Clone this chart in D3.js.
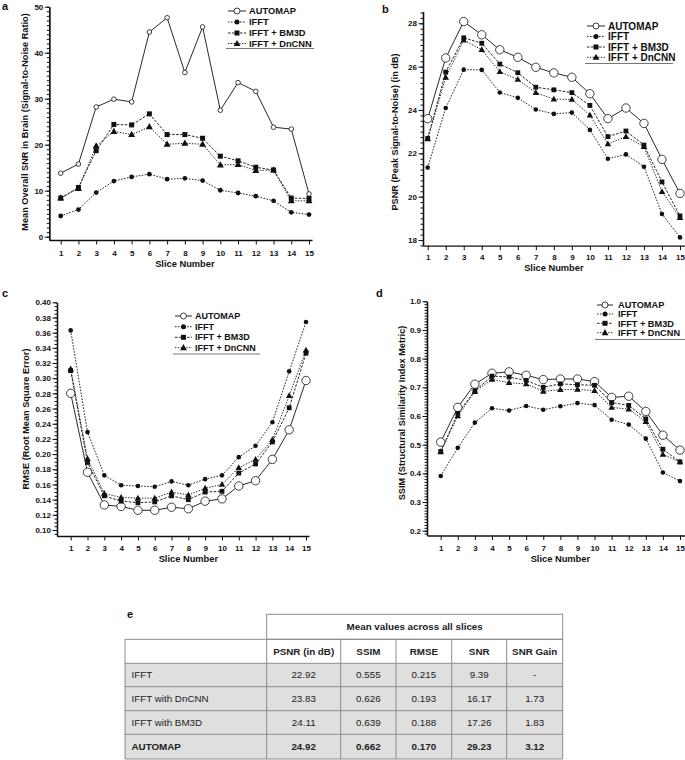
<!DOCTYPE html>
<html><head><meta charset="utf-8">
<script src="https://cdn.jsdelivr.net/npm/d3@7"></script>
<style>body{margin:0;background:#fff}svg{display:block;font-family:"Liberation Sans",Arial,sans-serif}</style>
</head><body><svg id="chart" width="685" height="760"></svg>
<script>
// ---------------- DATA ----------------
const slices = [1,2,3,4,5,6,7,8,9,10,11,12,13,14,15];
const seriesNames = ["AUTOMAP","IFFT","IFFT + BM3D","IFFT + DnCNN"];

// a: Mean overall SNR
const snrAutomap = [13.8,15.8,28.2,29.9,29.3,44.5,47.6,35.7,45.6,27.5,33.5,31.6,23.8,23.4,9.3];
const snrIfft    = [4.5,5.9,9.6,12.1,13.0,13.6,12.5,12.7,12.2,10.1,9.5,8.8,7.8,5.3,4.8];
const snrBm3d    = [8.4,10.7,18.7,24.4,24.3,26.7,22.2,22.2,21.4,17.5,16.5,15.1,14.5,8.4,8.3];
const snrDncnn   = [8.4,10.5,19.7,22.9,22.2,23.9,20.1,20.3,20.1,15.6,15.7,14.4,14.5,7.8,7.8];
const snrTicks   = [0,10,20,30,40,50];

// b: PSNR
const psnrAutomap = [23.6,26.4,28.08,27.47,26.78,26.43,25.97,25.71,25.51,24.75,23.6,24.09,23.38,21.72,20.15];
const psnrIfft    = [21.34,24.09,25.86,25.85,24.81,24.56,24.02,23.82,23.88,23.08,21.75,21.95,21.38,19.2,18.12];
const psnrBm3d    = [22.69,25.75,27.33,27.08,26.12,25.72,25.05,24.93,24.8,24.21,22.77,23.03,22.38,20.68,19.11];
const psnrDncnn   = [22.66,25.5,27.22,26.78,25.77,25.41,24.8,24.5,24.49,23.76,22.43,22.77,22.31,20.23,19.03];
const psnrTicks   = [18,20,22,24,26,28];

// c: RMSE
const rmseAutomap = [0.280,0.176,0.133,0.131,0.126,0.126,0.130,0.128,0.138,0.141,0.158,0.165,0.193,0.232,0.297];
const rmseIfft    = [0.363,0.229,0.172,0.159,0.158,0.157,0.164,0.159,0.167,0.172,0.196,0.211,0.242,0.309,0.374];
const rmseBm3d    = [0.310,0.189,0.145,0.138,0.136,0.137,0.145,0.140,0.150,0.151,0.175,0.187,0.216,0.261,0.333];
const rmseDncnn   = [0.312,0.194,0.148,0.143,0.142,0.142,0.150,0.146,0.155,0.160,0.182,0.193,0.219,0.277,0.337];
const rmseTicks   = [0.10,0.12,0.14,0.16,0.18,0.20,0.22,0.24,0.26,0.28,0.30,0.32,0.34,0.36,0.38,0.40];

// d: SSIM
const ssimAutomap = [0.509,0.630,0.711,0.749,0.754,0.742,0.727,0.729,0.729,0.720,0.665,0.669,0.616,0.533,0.481];
const ssimIfft    = [0.391,0.489,0.577,0.627,0.619,0.635,0.622,0.634,0.645,0.638,0.587,0.570,0.521,0.403,0.373];
const ssimBm3d    = [0.476,0.609,0.688,0.739,0.736,0.724,0.700,0.712,0.709,0.707,0.647,0.637,0.590,0.484,0.440];
const ssimDncnn   = [0.475,0.600,0.685,0.728,0.716,0.712,0.686,0.692,0.693,0.688,0.630,0.624,0.580,0.466,0.440];
const ssimTicks   = [0.2,0.3,0.4,0.5,0.6,0.7,0.8,0.9,1.0];

// e: table
const tableHeaderTop = "Mean values across all slices";
const tableColumns = ["PSNR (in dB)","SSIM","RMSE","SNR","SNR Gain"];
const tableMethods = ["IFFT","IFFT with DnCNN","IFFT with BM3D","AUTOMAP"];
const tablePsnr  = ["22.92","23.83","24.11","24.92"];
const tableSsim  = ["0.555","0.626","0.639","0.662"];
const tableRmse  = ["0.215","0.193","0.188","0.170"];
const tableSnr   = ["9.39","16.17","17.26","29.23"];
const tableGain  = ["-","1.73","1.83","3.12"];

// ---------------- DRAWING ----------------
const svg = d3.select("#chart");
const styles = {
  "AUTOMAP":      {marker:"circle", dash:null},
  "IFFT":         {marker:"dot", dash:"1.6,1.4"},
  "IFFT + BM3D":  {marker:"square", dash:"2.6,1.4"},
  "IFFT + DnCNN": {marker:"triangle", dash:"1.4,1.4"}
};

function marker(g, type, cx, cy, s) {
  if (type === "circle") {
    g.append("circle").attr("cx",cx).attr("cy",cy).attr("r",s.cr)
      .attr("fill","#fff").attr("stroke","#111").attr("stroke-width",0.8);
  } else if (type === "dot") {
    g.append("circle").attr("cx",cx).attr("cy",cy).attr("r",s.dr).attr("fill","#111");
  } else if (type === "square") {
    g.append("rect").attr("x",cx-s.sq/2).attr("y",cy-s.sq/2).attr("width",s.sq).attr("height",s.sq).attr("fill","#111");
  } else {
    const h = s.tr;
    g.append("path").attr("d",`M${cx},${cy-h*0.62}L${cx+h*0.58},${cy+h*0.42}L${cx-h*0.58},${cy+h*0.42}Z`).attr("fill","#111");
  }
}

function panel(cfg) {
  const g = svg.append("g");
  const x = d3.scaleLinear().domain([1,15]).range([cfg.x1, cfg.x15]);
  const yv = cfg.yTicks;
  const base = d3.scaleLinear().domain([yv[0], yv[yv.length-1]]).range([cfg.p0, cfg.p1]);
  const y = d3.scaleLinear().domain([base.invert(cfg.axisY), base.invert(cfg.axisTop)]).range([cfg.axisY, cfg.axisTop]);
  const xa = d3.scaleLinear().domain([x.invert(cfg.yAxisX), x.invert(cfg.xEnd)]).range([cfg.yAxisX, cfg.xEnd]);

  // x axis
  const gx = g.append("g").attr("transform",`translate(0,${cfg.axisY})`)
    .call(d3.axisBottom(xa).tickValues(slices).tickSize(4.5).tickSizeOuter(0).tickFormat(d3.format("d")));
  gx.selectAll("text").attr("y", cfg.xLabelY - cfg.axisY).attr("dy","0.35em")
    .attr("font-size",8).attr("font-weight","bold").attr("fill","#111").attr("font-family",null);
  // y axis minor
  const minors = d3.range(Math.ceil(y.domain()[0]/cfg.minor-1e-6)*cfg.minor, y.domain()[1]+1e-9, cfg.minor);
  g.append("g").attr("transform",`translate(${cfg.yAxisX},0)`)
    .call(d3.axisLeft(y).tickValues(minors).tickSize(2.5).tickSizeOuter(0).tickFormat(""));
  const gy = g.append("g").attr("transform",`translate(${cfg.yAxisX},0)`)
    .call(d3.axisLeft(y).tickValues(yv).tickSize(4.5).tickSizeOuter(0).tickFormat(cfg.fmt));
  gy.selectAll("text").attr("x",-6).attr("dy","0.33em")
    .attr("font-size",8).attr("font-weight","bold").attr("fill","#111").attr("font-family",null);
  g.selectAll(".domain").attr("stroke","#111").attr("stroke-width",1.3);
  g.selectAll(".tick line").attr("stroke","#111").attr("stroke-width",1);

  // labels
  g.append("text").attr("x",(cfg.x1+cfg.x15)/2).attr("y",cfg.titleY).attr("dy","0.35em")
    .attr("text-anchor","middle").attr("font-size",9.3).attr("font-weight","bold").attr("fill","#111").text("Slice Number");
  g.append("text").attr("transform",`translate(${cfg.yLabelX},${cfg.yLabelY}) rotate(-90)`).attr("dy","0.35em")
    .attr("text-anchor","middle").attr("font-size",cfg.ylFont).attr("font-weight","bold").attr("fill","#111").text(cfg.yLabel);
  g.append("text").attr("x",cfg.letter[0]).attr("y",cfg.letter[1]).attr("font-size",11).attr("font-weight","bold")
    .attr("fill","#111").text(cfg.letterText);

  const line = d3.line().x((d,i)=>x(slices[i])).y(d=>y(d));
  const order = [1,2,3,0];
  order.forEach(k => {
    const name = seriesNames[k];
    g.append("path").datum(cfg.series[k]).attr("d",line).attr("fill","none").attr("stroke","#111")
      .attr("stroke-width",0.9).attr("stroke-dasharray",styles[name].dash);
  });
  [0,1,2,3].forEach(k => {
    const name = seriesNames[k];
    cfg.series[k].forEach((v,i) => marker(g, styles[name].marker, x(slices[i]), y(v), cfg.ms));
  });

  // legend
  const L = cfg.legend;
  seriesNames.forEach((name,k) => {
    const yy = L.rows[k];
    g.append("line").attr("x1",L.l0).attr("x2",L.l1).attr("y1",yy).attr("y2",yy).attr("stroke","#111")
      .attr("stroke-width",0.9).attr("stroke-dasharray",styles[name].dash);
    marker(g, styles[name].marker, (L.l0+L.l1)/2, yy, cfg.lms);
    g.append("text").attr("x",L.tx).attr("y",yy).attr("dy","0.35em").attr("font-size",L.fs)
      .attr("font-weight","bold").attr("fill","#111").text(name);
  });
  g.append("line").attr("x1",L.u0).attr("x2",L.u1).attr("y1",L.uy).attr("y2",L.uy).attr("stroke","#777").attr("stroke-width",1);
}

const msSmall = {cr:2.3, dr:2.4, sq:5, tr:6};
const msBig = {cr:4.2, dr:2.3, sq:4.8, tr:5.6};
const msLeg = {cr:3, dr:2.5, sq:5, tr:5.8};

panel({letterText:"a", letter:[2,10], yAxisX:49.3, x1:60.7, x15:309, xEnd:312,
  yTicks:snrTicks, p0:236.7, p1:6.7, axisY:240, axisTop:6.7, minor:1, fmt:d3.format("d"),
  xLabelY:252.7, titleY:263.5, yLabelX:25, yLabelY:122, ylFont:9.2,
  yLabel:"Mean Overall SNR in Brain (Signal-to-Noise Ratio)",
  series:[snrAutomap,snrIfft,snrBm3d,snrDncnn], ms:msSmall, lms:msLeg,
  legend:{l0:228,l1:246,tx:249,rows:[11,22,33,43.5],fs:9.3,u0:226,u1:314,uy:48.5}});

panel({letterText:"b", letter:[382,13], yAxisX:423, x1:427.7, x15:680, xEnd:686,
  yTicks:psnrTicks, p0:240, p1:23.3, axisY:245.7, axisTop:11.7, minor:0.25, fmt:d3.format("d"),
  xLabelY:257.5, titleY:268, yLabelX:394.5, yLabelY:132, ylFont:9.2,
  yLabel:"PSNR (Peak Signal-to-Noise) (in dB)",
  series:[psnrAutomap,psnrIfft,psnrBm3d,psnrDncnn], ms:msBig, lms:msLeg,
  legend:{l0:587,l1:605,tx:608,rows:[26,36.5,47,57.3],fs:10,u0:585,u1:673,uy:63.5}});

panel({letterText:"c", letter:[2,297], yAxisX:57, x1:70.7, x15:306, xEnd:309,
  yTicks:rmseTicks, p0:530, p1:302.3, axisY:536, axisTop:302.3, minor:0.005, fmt:d3.format(".2f"),
  xLabelY:547.7, titleY:558.3, yLabelX:26, yLabelY:419, ylFont:9.2,
  yLabel:"RMSE (Root Mean Square Error)",
  series:[rmseAutomap,rmseIfft,rmseBm3d,rmseDncnn], ms:msBig, lms:msLeg,
  legend:{l0:175,l1:192,tx:195,rows:[316,326.7,337.3,347.7],fs:9,u0:173,u1:260,uy:354}});

panel({letterText:"d", letter:[376,297], yAxisX:427, x1:440.7, x15:680, xEnd:686,
  yTicks:ssimTicks, p0:530.7, p1:301.3, axisY:535.5, axisTop:301.3, minor:0.01, fmt:d3.format(".1f"),
  xLabelY:548.3, titleY:558.5, yLabelX:401.5, yLabelY:413, ylFont:9.2,
  yLabel:"SSIM (Structural Similarity Index Metric)",
  series:[ssimAutomap,ssimIfft,ssimBm3d,ssimDncnn], ms:msBig, lms:msLeg,
  legend:{l0:597,l1:613,tx:618,rows:[305,314,323.3,332.7],fs:9.2,u0:595,u1:686,uy:339.5}});

// ---------------- TABLE ----------------
const tg = svg.append("g");
tg.append("text").attr("x",127).attr("y",618).attr("font-size",11).attr("font-weight","bold").attr("fill","#111").text("e");
const colX = [125,266.7,340.7,396,451.7,506.7,562.7];
const rowY = [614.3,639.3,663.3,686.7,710.7,734.3,759];
const border = "#8c8c8c";
// gray body rows
for (let r=0;r<4;r++) {
  tg.append("rect").attr("x",colX[0]).attr("y",rowY[r+2]).attr("width",colX[6]-colX[0]).attr("height",rowY[r+3]-rowY[r+2]).attr("fill","#dfdfdf");
}
// top header box
tg.append("rect").attr("x",colX[1]).attr("y",rowY[0]).attr("width",colX[6]-colX[1]).attr("height",rowY[1]-rowY[0])
  .attr("fill","#fff").attr("stroke",border).attr("stroke-width",1);
tg.append("text").attr("x",(colX[1]+colX[6])/2).attr("y",(rowY[0]+rowY[1])/2).attr("dy","0.35em").attr("text-anchor","middle")
  .attr("font-size",9.8).attr("font-weight","bold").attr("fill","#222").text(tableHeaderTop);
// grid lines
for (let r=1;r<rowY.length;r++) {
  tg.append("line").attr("x1",colX[0]).attr("x2",colX[6]).attr("y1",rowY[r]).attr("y2",rowY[r]).attr("stroke",border);
}
colX.forEach(cx => tg.append("line").attr("x1",cx).attr("x2",cx).attr("y1",rowY[1]).attr("y2",rowY[6]).attr("stroke",border));
// column headers
tableColumns.forEach((c,i) => {
  tg.append("text").attr("x",(colX[i+1]+colX[i+2])/2).attr("y",(rowY[1]+rowY[2])/2).attr("dy","0.35em")
    .attr("text-anchor","middle").attr("font-size",9.8).attr("font-weight","bold").attr("fill","#222").text(c);
});
const cols = [tablePsnr,tableSsim,tableRmse,tableSnr,tableGain];
tableMethods.forEach((m,r) => {
  const cy = (rowY[r+2]+rowY[r+3])/2;
  const bold = m === "AUTOMAP" ? "bold" : "normal";
  tg.append("text").attr("x",131.5).attr("y",cy).attr("dy","0.35em").attr("font-size",9.8)
    .attr("font-weight",bold).attr("fill","#222").text(m);
  cols.forEach((col,i) => {
    tg.append("text").attr("x",(colX[i+1]+colX[i+2])/2).attr("y",cy).attr("dy","0.35em").attr("text-anchor","middle")
      .attr("font-size",9.8).attr("font-weight",bold).attr("fill","#222").text(col[r]);
  });
});
</script></body></html>
